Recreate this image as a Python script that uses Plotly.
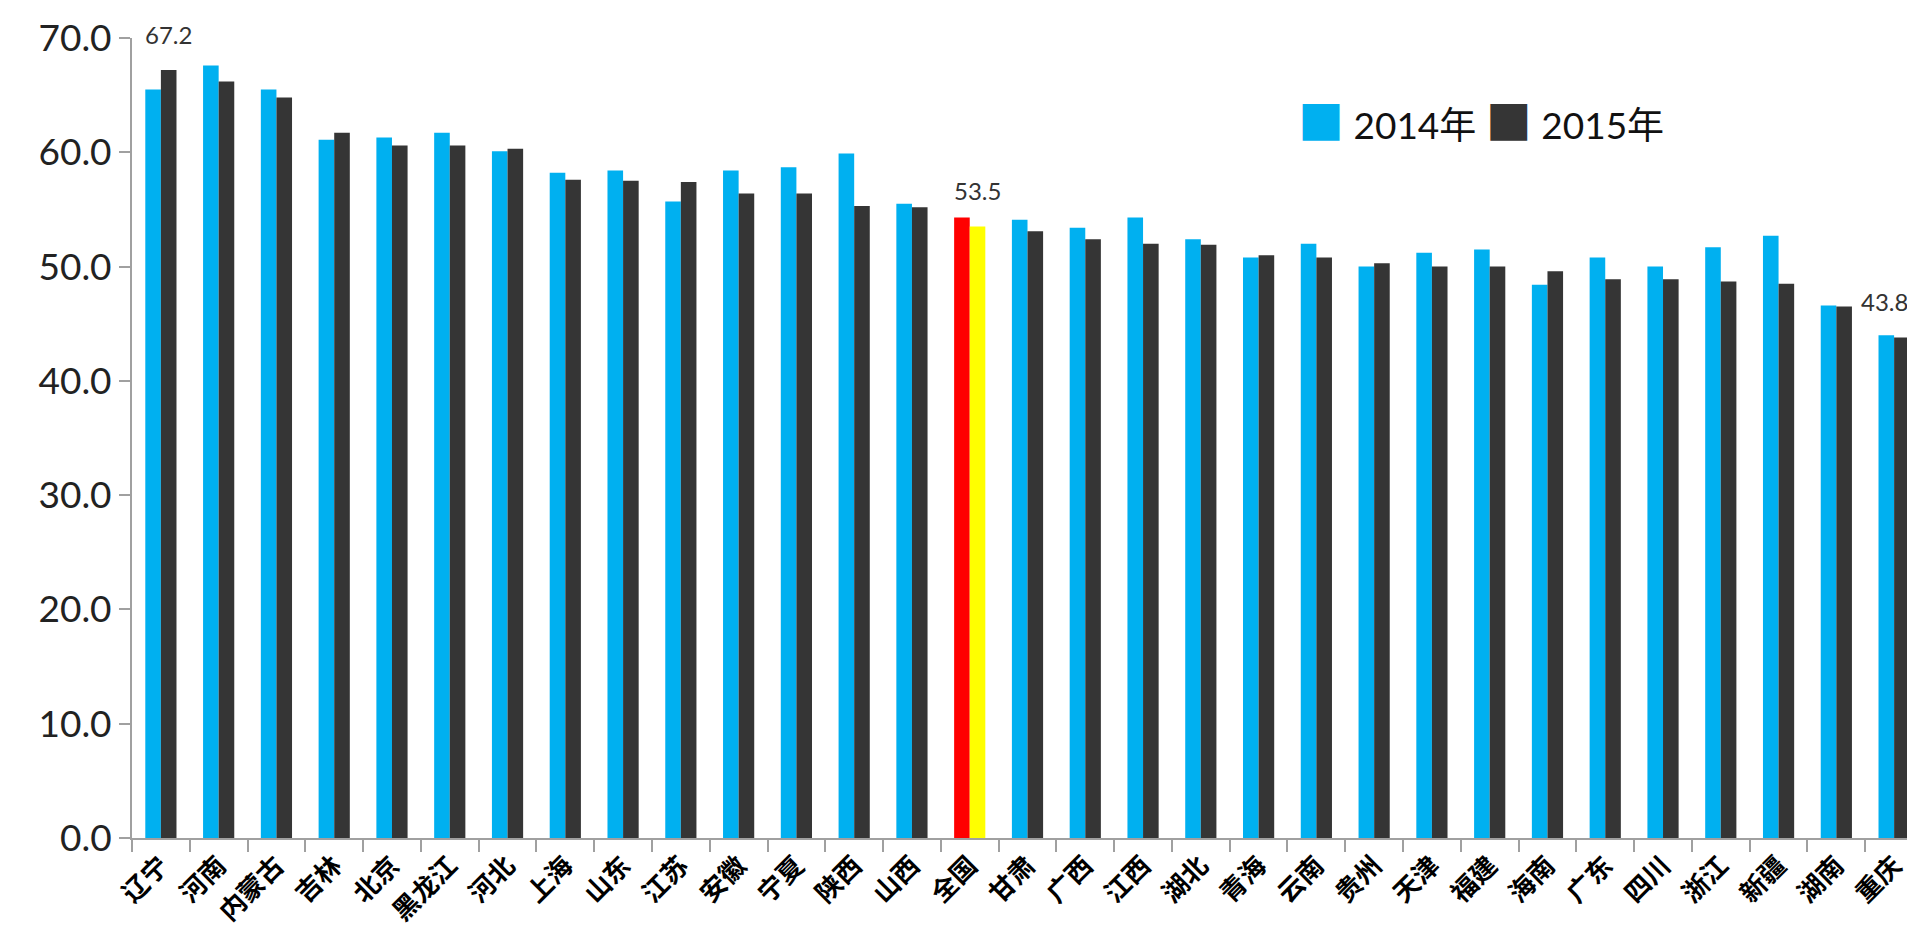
import plotly.graph_objects as go

categories = ["辽宁", "河南", "内蒙古", "吉林", "北京", "黑龙江", "河北", "上海", "山东", "江苏",
              "安徽", "宁夏", "陕西", "山西", "全国", "甘肃", "广西", "江西", "湖北", "青海",
              "云南", "贵州", "天津", "福建", "海南", "广东", "四川", "浙江", "新疆", "湖南", "重庆"]
values_2014 = [65.5, 67.6, 65.5, 61.1, 61.3, 61.7, 60.1, 58.2, 58.4, 55.7,
               58.4, 58.7, 59.9, 55.5, 54.3, 54.1, 53.4, 54.3, 52.4, 50.8,
               52.0, 50.0, 51.2, 51.5, 48.4, 50.8, 50.0, 51.7, 52.7, 46.6, 44.0]
values_2015 = [67.2, 66.2, 64.8, 61.7, 60.6, 60.6, 60.3, 57.6, 57.5, 57.4,
               56.4, 56.4, 55.3, 55.2, 53.5, 53.1, 52.4, 52.0, 51.9, 51.0,
               50.8, 50.3, 50.0, 50.0, 49.6, 48.9, 48.9, 48.7, 48.5, 46.5, 43.8]
series_names = ["2014年", "2015年"]
labelled = ["辽宁", "全国", "重庆"]
highlight = "全国"
tick_values = [0, 10, 20, 30, 40, 50, 60, 70]

BLUE = "#00B0F0"
DARK = "#353535"
RED = "#FF0000"
YELLOW = "#FFFF00"

colors_2014 = [RED if c == highlight else BLUE for c in categories]
colors_2015 = [YELLOW if c == highlight else DARK for c in categories]

fig = go.Figure()
fig.add_trace(go.Bar(x=categories, y=values_2014, name=series_names[0],
                     marker=dict(color=colors_2014, line=dict(width=0)), showlegend=False,
                     cliponaxis=False))
fig.add_trace(go.Bar(x=categories, y=values_2015, name=series_names[1],
                     marker=dict(color=colors_2015, line=dict(width=0)), showlegend=False,
                     cliponaxis=False))

label_shift = {"辽宁": 8, "全国": 8, "重庆": -10}
for c in labelled:
    i = categories.index(c)
    v = values_2015[i]
    fig.add_annotation(x=c, y=v, text=f"{v:.1f}", showarrow=False,
                       xshift=label_shift[c], yshift=36, yanchor="middle",
                       font=dict(family="Lato, Open Sans, sans-serif", size=24, color="#333333"))

fig.add_annotation(xref="paper", yref="paper", x=0.650, y=0.895, xanchor="left", yanchor="middle",
                   showarrow=False,
                   text=(f"<span style='color:{BLUE};font-size:46px'>■</span> {series_names[0]} "
                         f"<span style='color:{DARK};font-size:46px'>■</span> {series_names[1]}"),
                   font=dict(family="Lato, Noto Sans CJK SC, sans-serif", size=37, color="#111111"))

fig.update_layout(
    width=1915, height=936,
    margin=dict(l=124, r=0, t=30, b=106),
    paper_bgcolor="white", plot_bgcolor="white",
    barmode="group", bargap=0.46, bargroupgap=0,
    showlegend=False,
    xaxis=dict(
        type="category", showgrid=False, showline=True, linecolor="#A0A0A0", linewidth=2,
        ticks="outside", tickson="boundaries", ticklen=12, tickcolor="#A0A0A0", tickwidth=2,
        automargin=False, tickangle=-45,
        tickfont=dict(family="Noto Sans CJK SC", size=26, color="#000000", weight="bold"),
    ),
    yaxis=dict(
        range=[0, 70], showgrid=False, zeroline=False, showline=True, linecolor="#A0A0A0", linewidth=2,
        ticks="outside", ticklen=11, tickcolor="#A0A0A0", tickwidth=2,
        tickvals=tick_values, ticktext=[f"{t:.1f}" for t in tick_values],
        tickfont=dict(family="Lato, Open Sans, sans-serif", size=37, color="#222222"),
        automargin=False,
    ),
)

fig.write_html("out.html")
